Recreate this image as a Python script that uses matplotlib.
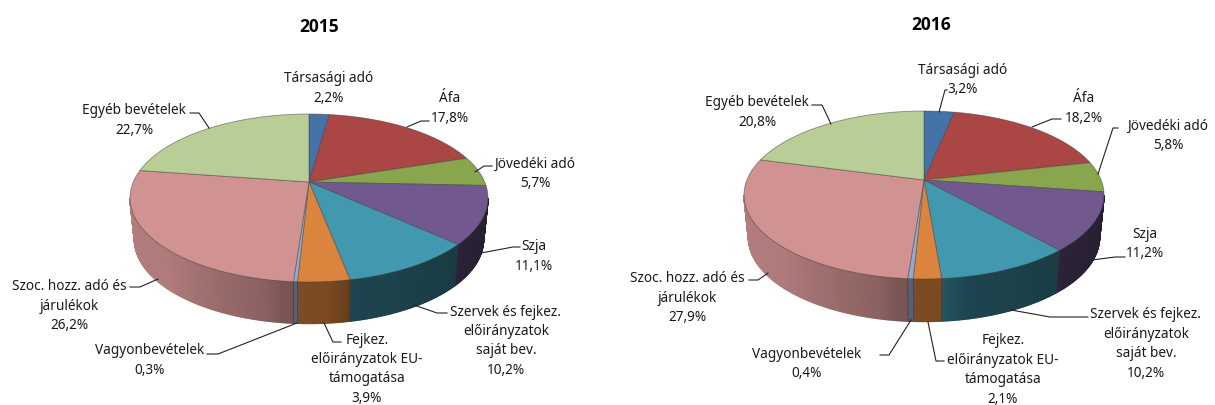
import numpy as np
import matplotlib
matplotlib.use("Agg")
import matplotlib.pyplot as plt

plt.rcParams['font.family'] = ['Noto Sans', 'DejaVu Sans']

categories = ["Társasági adó", "Áfa", "Jövedéki adó", "Szja",
              "Szervek és fejkez.\nelőirányzatok\nsaját bev.",
              "Fejkez.\nelőirányzatok EU-\ntámogatása", "Vagyonbevételek",
              "Szoc. hozz. adó és\njárulékok", "Egyéb bevételek"]
values_2015 = [2.2, 17.8, 5.7, 11.1, 10.2, 3.9, 0.3, 26.2, 22.7]
values_2016 = [3.2, 18.2, 5.8, 11.2, 10.2, 2.1, 0.4, 27.9, 20.8]
colors = ["#4572A7", "#AA4643", "#89A54E", "#71588F", "#4198AF",
          "#DB843D", "#93A9CF", "#D19392", "#B9CD96"]

# label centre (x, y of the first line)
label_pos_2015 = [(329, 77), (450, 97), (535, 162), (534, 245), (506, 310),
                  (367, 338), (150, 349), (69, 285), (134, 109)]
label_pos_2016 = [(963, 68), (1084, 97), (1168, 124), (1145, 232), (1146, 313),
                  (1003, 339), (807, 352), (687, 277), (757, 101)]

leaders_2015 = [None,
                [(429, 121), (421, 121), (407, 127)],
                [(492, 166), (484, 166), (475, 172)],
                [(520, 247), (513, 247), (481, 253)],
                [(447, 313), (437, 313), (414, 305)],
                [(341, 342), (333, 342), (324, 323)],
                [(207, 354), (218, 354), (297, 323)],
                [(130, 287), (140, 287), (158, 279)],
                [(190, 113), (199, 113), (209, 128)]]
leaders_2016 = [[(947, 90), (945, 90), (939, 112)],
                [(1061, 119), (1052, 119), (1032, 127)],
                [(1118, 128), (1113, 128), (1098, 174)],
                [(1125, 257), (1115, 257), (1092, 260)],
                [(1088, 317), (1050, 317), (1011, 310)],
                [(944, 361), (936, 361), (928, 322)],
                [(880, 355), (889, 355), (911, 320)],
                [(749, 280), (758, 280), (768, 273)],
                [(812, 105), (822, 105), (831, 124)]]


def wall_shade(deg):
    """Sötétítés a fal szöge szerint (jobb oldal sötét, bal világos)."""
    return np.interp(deg, [100, 130, 160, 168, 175.5, 187, 192, 225, 260],
                     [0.33, 0.38, 0.44, 0.45, 0.56, 0.58, 0.66, 0.84, 0.85])


def project(theta, cx, top, apex, bottom, rx):
    # körlap -> perspektivikus ellipszis
    u, v = np.sin(theta), np.cos(theta)
    c = (top + bottom - 2 * apex) / (bottom - top)
    a = top * (1 + c) - apex
    big_r = rx * np.sqrt(1 - c**2)
    den = 1 + c * v
    return cx + big_r * u / den, (a * v + apex) / den, c


def draw_pie(ax, values, title, title_x, title_y, cx, top, apex, bottom, rx, depth,
             label_pos, leaders):
    edges = np.cumsum([0] + values) / sum(values) * 360
    _, _, c = project(np.array([0.0]), cx, top, apex, bottom, rx)
    right = np.degrees(np.arccos(-c))
    left = 360 - right

    # falak
    for i, col in enumerate(colors):
        a0, a1 = max(edges[i], right), min(edges[i + 1], left)
        if a1 <= a0:
            continue
        steps = np.linspace(a0, a1, max(2, int((a1 - a0) / 0.5) + 1))
        base = np.array(matplotlib.colors.to_rgb(col))
        for s0, s1 in zip(steps[:-1], steps[1:]):
            x, y, _ = project(np.radians([s0, s1]), cx, top, apex, bottom, rx)
            xb = cx + (x - cx) * 0.975
            yb = y + depth
            shade = base * wall_shade((s0 + s1) / 2)
            ax.fill([x[0], x[1], xb[1], xb[0]], [y[0], y[1], yb[1], yb[0]],
                    color=shade, lw=1.0, zorder=2)
        # csak a valódi szelethatárra kell vonal
        for ang in (a0, a1):
            if ang in (right, left):
                continue
            x, y, _ = project(np.radians([ang]), cx, top, apex, bottom, rx)
            ax.plot([x[0], cx + (x[0] - cx) * 0.975], [y[0], y[0] + depth],
                    color="#333333", lw=0.4, alpha=0.5, zorder=3)

    # felső lap
    for i, col in enumerate(colors):
        th = np.radians(np.linspace(edges[i], edges[i + 1], 80))
        x, y, _ = project(th, cx, top, apex, bottom, rx)
        ax.fill(np.r_[cx, x], np.r_[apex, y], facecolor=col,
                edgecolor=(0.25, 0.25, 0.25, 0.55), lw=0.6, zorder=4)

    ax.text(title_x, title_y, title, ha="center", va="center", fontsize=12.5,
            fontweight="bold", family="Open Sans", color="black")

    for name, val, (lx, ly), leader in zip(categories, values, label_pos, leaders):
        text = name + "\n" + f"{val:.1f}".replace(".", ",") + "%"
        ax.text(lx, ly - 5.5, text, ha="center", va="top", fontsize=9.8,
                linespacing=1.4, color="#1a1a1a", zorder=6)
        if leader:
            ax.plot(*zip(*leader), color="#222222", lw=0.8, zorder=5)


fig = plt.figure(figsize=(12.15, 4.05), dpi=100)
ax = fig.add_axes([0, 0, 1, 1])
ax.set_xlim(0, 1215)
ax.set_ylim(405, 0)
ax.axis("off")

draw_pie(ax, values_2015, "2015", 319, 27, 309, 114, 182, 282, 179, 41.5, label_pos_2015, leaders_2015)
draw_pie(ax, values_2016, "2016", 931, 25, 924, 111, 180, 279, 180, 42.5, label_pos_2016, leaders_2016)

fig.savefig("out.png", dpi=100)
